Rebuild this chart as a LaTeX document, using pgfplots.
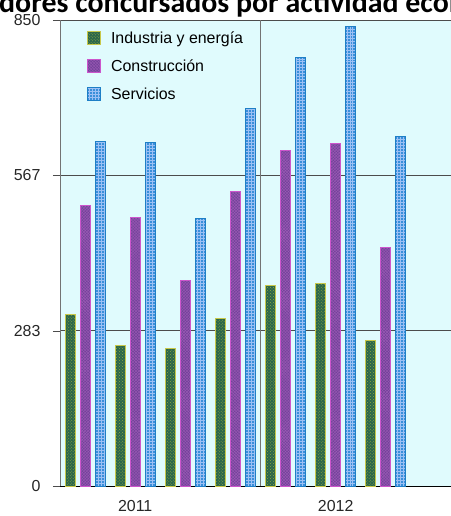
\documentclass[border=0pt]{standalone}
\usepackage{fontspec}
\setmainfont{Liberation Sans}
\newfontfamily\titlefont{Carlito}
\usepackage{pgfplots}
\pgfplotsset{compat=1.18}
\usetikzlibrary{patterns}

\definecolor{bgcyan}{HTML}{E0FBFD}
\definecolor{indfill}{HTML}{2A664C}
\definecolor{inddraw}{HTML}{C8C84A}
\definecolor{inddot}{HTML}{8EA840}
\definecolor{confill}{HTML}{73429A}
\definecolor{condraw}{HTML}{CC55CC}
\definecolor{condot}{HTML}{9A5AB4}
\definecolor{serfill}{HTML}{3A8FDA}
\definecolor{serdraw}{HTML}{1E7FC6}
\definecolor{serline}{HTML}{9CC0F4}

\pgfplotsset{sqlegend/.style={legend image code/.code={%
    \draw[##1] (0bp,-6.5bp) rectangle (13bp,6.5bp); \path (21bp,0bp);}}}

\begin{document}
\begin{tikzpicture}[x=1bp,y=1bp]
\begin{axis}[
    scale only axis,
    width=401bp, height=466bp,
    ybar, bar width=0.2,
    xmin=0, xmax=8, ymin=0, ymax=850,
    axis x line*=bottom, axis y line*=left,
    x axis line style={black, -},
    y axis line style={black!55, -},
    axis background/.style={fill=bgcyan},
    ytick={0,283,567,850},
    tick align=outside, major tick length=7bp,
    ytick style={black!70},
    ymajorgrids, major grid style={black!70, line width=0.8pt},
    xtick={1.5,5.5}, xticklabels={2011,2012},
    xtick style={draw=none},
    extra x ticks={4}, extra x tick labels={},
    extra x tick style={grid=major, major grid style={black!55, line width=0.8pt}},
    tick label style={font=\fontsize{16}{18}\selectfont, text=black!85},
    yticklabel style={xshift=-9bp},
    xticklabel style={yshift=-4bp},
    /pgf/number format/assume math mode=true,
    legend style={at={(axis description cs:0.067,0.98)}, anchor=north west,
        draw=none, fill=none, inner sep=0pt, row sep=11bp,
        font=\fontsize{16}{18}\selectfont},
    legend cell align=left,
]
\addplot[bar shift=-0.3, fill=indfill, draw=inddraw, line width=1pt,
    postaction={pattern=crosshatch dots, pattern color=inddot}, sqlegend]
    coordinates {(0.5,313) (1.5,256) (2.5,250) (3.5,305) (4.5,366) (5.5,369) (6.5,265)};
\addlegendentry{Industria y energía}
\addplot[bar shift=0, fill=confill, draw=condraw, line width=1pt,
    postaction={pattern=crosshatch, pattern color=condot}, sqlegend]
    coordinates {(0.5,511) (1.5,490) (2.5,374) (3.5,537) (4.5,612) (5.5,624) (6.5,435)};
\addlegendentry{Construcción}
\addplot[bar shift=0.3, fill=serfill, draw=serdraw, line width=1pt,
    postaction={pattern=grid, pattern color=serline}, sqlegend]
    coordinates {(0.5,629) (1.5,627) (2.5,488) (3.5,688) (4.5,781) (5.5,838) (6.5,637)};
\addlegendentry{Servicios}
\coordinate (O) at (rel axis cs:0,0);
\end{axis}
\path (O) ++(-61,473) coordinate (T);
\node[anchor=base east, inner sep=0pt] at (T) {\titlefont\bfseries\fontsize{30}{33}\selectfont Deu};
\node[anchor=base west, inner sep=0pt] at (T) {\titlefont\bfseries\fontsize{30}{33}\selectfont dores concursados por actividad económica};
\pgfresetboundingbox
\path (O) ++(-60,-30) coordinate (BL);
\useasboundingbox (BL) rectangle ++(451,516);
\end{tikzpicture}
\end{document}
